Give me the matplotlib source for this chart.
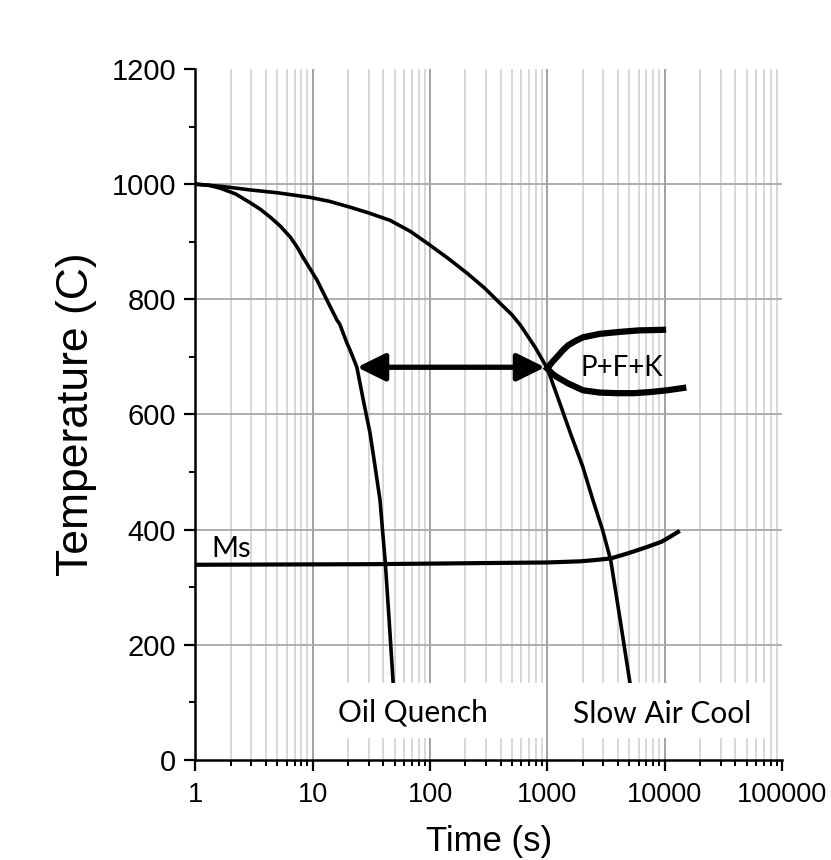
import numpy as np
import matplotlib
matplotlib.use('Agg')
import matplotlib.pyplot as plt
from matplotlib.patches import Rectangle
from matplotlib.ticker import LogLocator, MultipleLocator, NullFormatter

# Cooling curves, time (s) vs temperature (C)
oil_t = [1, 1.3, 1.63, 2.2, 2.92, 3.6, 4.33, 5.3, 6.44, 7.3, 8.26, 9.5, 10.9, 12, 13.2,
         14.6, 16.1, 17, 19.5, 21.5, 23.8, 27, 30.8, 34, 37.5, 39.5, 41.6, 45, 48.5]
oil_T = [1000, 998, 993, 983, 968, 956, 943, 927, 908, 892, 873, 853, 833, 816, 799,
         781, 764, 757, 725, 705, 682, 625, 568, 510, 451, 396, 342, 238, 134]

air_t = [1, 1.7, 2.92, 5, 9.5, 14, 20.8, 30, 45.8, 68, 100, 145, 208, 290, 396, 500,
         590, 780, 1000, 1250, 1570, 2000, 2450, 2950, 3470, 4200, 5060]
air_T = [1000, 996, 990, 985, 977, 970, 960, 950, 937, 918, 894, 870, 845, 820, 793, 773,
         755, 718, 680, 625, 568, 510, 451, 400, 347, 240, 134]

# Martensite start line
ms_t = [1, 30, 100, 300, 1000, 1900, 2500, 3470, 4200, 5060, 6000, 7100, 9400, 11000, 13000]
ms_T = [339, 340, 341, 342, 343, 345, 347, 350, 355, 360, 365, 370, 379, 387, 396]

# P+F+K transformation nose
pfk_up_t = [1000, 1100, 1210, 1350, 1500, 1750, 2015, 2800, 3925, 6000, 9680]
pfk_up_T = [680, 691, 700, 711, 720, 728, 734, 740, 743, 746, 747]
pfk_lo_t = [1000, 1100, 1210, 1500, 2015, 2800, 3925, 5500, 7560, 10500, 14400]
pfk_lo_T = [680, 671, 665, 654, 642, 638, 637, 637, 639, 642, 646]

arrow_t = [23.9, 955]
arrow_T = 682

fig = plt.figure(figsize=(8.31, 8.60), dpi=100)
ax = fig.add_axes([0.2351, 0.1163, 0.7059, 0.8035])

ax.set_xscale('log')
ax.set_xlim(1, 100000)
ax.set_ylim(0, 1200)

# grid
for dec in range(0, 5):
    base = 10 ** dec
    if dec > 0:
        ax.axvline(base, color='#9a9a9a', lw=1.3, zorder=0)
    for m in range(2, 10):
        ax.axvline(base * m, color='#d4d4d4', lw=1.3, zorder=0)
for yv in [200, 400, 600, 800, 1000]:
    ax.axhline(yv, color='#a8a8a8', lw=1.3, zorder=0)

for s in ['top', 'right']:
    ax.spines[s].set_visible(False)
for s in ['left', 'bottom']:
    ax.spines[s].set_linewidth(1.8)

ax.set_xticks([1, 10, 100, 1000, 10000, 100000])
ax.set_xticklabels(['1', '10', '100', '1000', '10000', '100000'])
ax.xaxis.set_minor_locator(LogLocator(base=10, subs=np.arange(2, 10), numticks=20))
ax.xaxis.set_minor_formatter(NullFormatter())
ax.yaxis.set_major_locator(MultipleLocator(200))
ax.yaxis.set_minor_locator(MultipleLocator(100))

ax.tick_params(axis='both', which='major', direction='out', length=8, width=1.6)
ax.tick_params(axis='both', which='minor', direction='out', length=4.5, width=1.4)
ax.tick_params(axis='x', labelsize=19.5, pad=8)
ax.tick_params(axis='y', labelsize=21, pad=6)
for lab in ax.get_xticklabels() + ax.get_yticklabels():
    lab.set_family('Liberation Sans')

ax.set_xlabel('Time (s)', fontsize=25, family='Liberation Sans', labelpad=12)
ax.set_ylabel('Temperature (C)', fontsize=32, family='Liberation Sans', labelpad=10)

# curves
ax.plot(oil_t, oil_T, color='black', lw=2.6, zorder=3, solid_joinstyle='round')
ax.plot(air_t, air_T, color='black', lw=2.6, zorder=3, solid_joinstyle='round')
ax.plot(ms_t, ms_T, color='black', lw=3.0, zorder=3, solid_joinstyle='round')
ax.plot(pfk_up_t, pfk_up_T, color='black', lw=4.5, zorder=3, solid_joinstyle='round')
ax.plot(pfk_lo_t, pfk_lo_T, color='black', lw=4.5, zorder=3, solid_joinstyle='round')

ax.annotate('', xy=(arrow_t[0], arrow_T), xytext=(arrow_t[1], arrow_T),
            arrowprops=dict(arrowstyle='<|-|>,head_length=0.85,head_width=0.42',
                            mutation_scale=20, lw=3.8, color='black',
                            shrinkA=0, shrinkB=0), zorder=4)

# white label boxes at the bottom
ax.add_patch(Rectangle((0.212, 0.032), 0.382, 0.079, transform=ax.transAxes,
                       facecolor='white', edgecolor='none', zorder=5))
ax.add_patch(Rectangle((0.610, 0.032), 0.366, 0.079, transform=ax.transAxes,
                       facecolor='white', edgecolor='none', zorder=5))

lab_font = 'Lato'
ax.text(0.371, 0.069, 'Oil Quench', transform=ax.transAxes, fontsize=21.5,
        family=lab_font, ha='center', va='center', zorder=6)
ax.text(0.796, 0.067, 'Slow Air Cool', transform=ax.transAxes, fontsize=21.5,
        family=lab_font, ha='center', va='center', zorder=6)
ax.text(0.727, 0.567, 'P+F+K', transform=ax.transAxes, fontsize=20,
        family=lab_font, ha='center', va='center', zorder=6)
ax.text(0.061, 0.306, 'Ms', transform=ax.transAxes, fontsize=21,
        family=lab_font, ha='center', va='center', zorder=6)

fig.savefig('out.png', dpi=100)
